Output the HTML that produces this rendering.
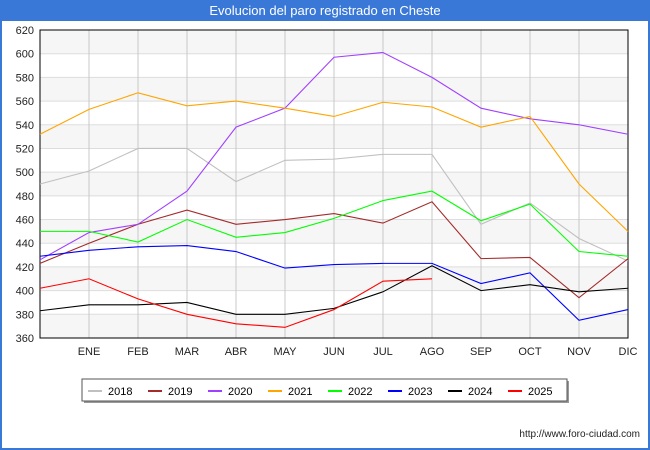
<!DOCTYPE html>
<html><head><meta charset="utf-8"><style>
body{margin:0;background:#fff;font-family:"Liberation Sans",sans-serif}
#wrap{position:relative;width:650px;height:450px;overflow:hidden;background:#fff}
#title{position:absolute;left:0;top:0;width:650px;height:21px;background:#3a78d8;color:#fff;font-size:13px;text-align:center;line-height:21px}
#frame{position:absolute;left:0;top:21px;width:646px;height:427px;border:2px solid #3a78d8;border-top:none}
</style></head><body>
<div id="wrap">
<div id="title">Evolucion del paro registrado en Cheste</div>
<div id="frame"></div>
<svg id="svg" width="650" height="450" style="position:absolute;left:0;top:0"></svg>
</div>
<script>
const months=["","ENE","FEB","MAR","ABR","MAY","JUN","JUL","AGO","SEP","OCT","NOV","DIC"];
const yTicks=[360,380,400,420,440,460,480,500,520,540,560,580,600,620];
const years=["2018","2019","2020","2021","2022","2023","2024","2025"];
const colors=["#c0c0c0","#a52a2a","#a040ff","#ffa500","#00ff00","#0000ff","#000000","#ff0000"];
const s2018=[490,501,520,520,492,510,511,515,515,456,474,444,425];
const s2019=[423,440,456,468,456,460,465,457,475,427,428,394,427];
const s2020=[426,449,456,484,538,554,597,601,580,554,545,540,532];
const s2021=[532,553,567,556,560,554,547,559,555,538,547,490,450];
const s2022=[450,450,441,460,445,449,461,476,484,459,473,433,429];
const s2023=[429,434,437,438,433,419,422,423,423,406,415,375,384];
const s2024=[383,388,388,390,380,380,385,399,421,400,405,399,402];
const s2025=[402,410,393,380,372,369,384,408,410];
const series=[s2018,s2019,s2020,s2021,s2022,s2023,s2024,s2025];
const L=40,R=628,T=30,B=338,yMin=360,yMax=620;
const xs=i=>L+i*(R-L)/(months.length-1);
const ys=v=>B-(v-yMin)*(B-T)/(yMax-yMin);
const svg=document.getElementById('svg');const NS="http://www.w3.org/2000/svg";
function mk(t,a,p){const e=document.createElementNS(NS,t);for(const k in a)e.setAttribute(k,a[k]);(p||svg).appendChild(e);return e;}
for(let i=0;i<yTicks.length-1;i++){if((yTicks.length-2-i)%2===0){const r=mk('rect',{x:L,y:ys(yTicks[i+1]),width:R-L,height:ys(yTicks[i])-ys(yTicks[i+1]),fill:'#f6f6f6'});

}}
yTicks.forEach(v=>{const l=mk('line',{x1:L,x2:R,y1:ys(v),y2:ys(v),stroke:'#dddddd'});


const t=mk('text',{x:L-6,y:ys(v)+4,'text-anchor':'end','font-size':11,fill:'#222'});t.textContent=v;

});
months.forEach((m,i)=>{if(i>0){const l=mk('line',{x1:xs(i),x2:xs(i),y1:T,y2:B,stroke:'#c8c8c8'});

}
const t=mk('text',{x:xs(i),y:B+17,'text-anchor':'middle','font-size':11,fill:'#222'});t.textContent=m;

});
const fr=mk('rect',{x:L,y:T,width:R-L,height:B-T,fill:'none',stroke:'#000'});


series.forEach((s,k)=>{const p=mk('polyline',{points:s.map((v,i)=>xs(i)+','+ys(v)).join(' '),fill:'none',stroke:colors[k],'stroke-width':1.1});

});
const lg=mk('g',{});


mk('rect',{x:84,y:381,width:485,height:22,fill:'#999'},lg);
mk('rect',{x:82,y:379,width:485,height:22,fill:'#fff',stroke:'#555'},lg);
years.forEach((y,k)=>{const x=88+k*60;const g=mk('g',{},lg);


mk('line',{x1:x,x2:x+14,y1:391,y2:391,stroke:colors[k],'stroke-width':2},g);
const t=mk('text',{x:x+20,y:395,'font-size':11,fill:'#000'},g);t.textContent=y;});
const u=mk('text',{x:640,y:437,'text-anchor':'end','font-size':10,fill:'#222'});u.textContent='http://www.foro-ciudad.com';


</script>
</body></html>
